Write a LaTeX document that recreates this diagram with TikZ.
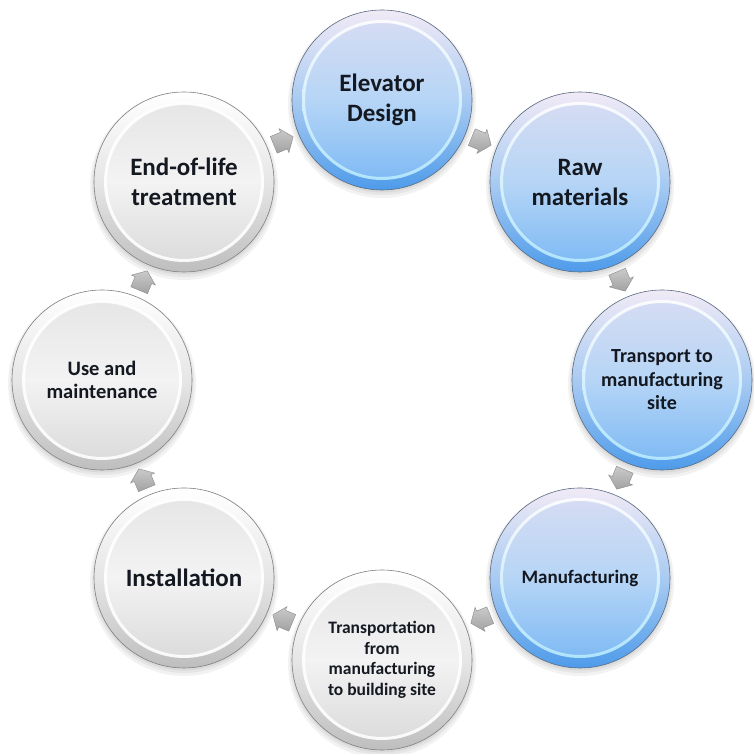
\documentclass[tikz,border=0pt]{standalone}
\usepackage{fontspec}
\setmainfont{Carlito}
\usetikzlibrary{calc,backgrounds}
\definecolor{bOutTop}{HTML}{F1EAF6}
\definecolor{bOutMid}{HTML}{A9CBF2}
\definecolor{bOutBot}{HTML}{4E9BEA}
\definecolor{bInTop}{HTML}{D9DDF2}
\definecolor{bInMid}{HTML}{B6D5F6}
\definecolor{bInBot}{HTML}{78B7F4}
\definecolor{bGlow}{HTML}{BFEFFF}
\definecolor{bRim}{HTML}{5A6A80}
\definecolor{gOutTop}{HTML}{FFFFFF}
\definecolor{gOutMid}{HTML}{E6E6E6}
\definecolor{gOutBot}{HTML}{BEBEBE}
\definecolor{gInTop}{HTML}{E4E4E4}
\definecolor{gInMid}{HTML}{F3F3F3}
\definecolor{gInBot}{HTML}{D8D8D8}
\definecolor{gRim}{HTML}{808080}
\definecolor{aTop}{HTML}{CACACA}
\definecolor{aBot}{HTML}{A2A2A2}
\definecolor{aRim}{HTML}{8A8A8A}
\definecolor{txt}{HTML}{141820}
\tikzset{
  stage/.style={circle, minimum size=180pt, inner sep=0pt, align=center,
    font=\bfseries, text=txt, line width=0.6pt},
  bluestage/.style={stage, draw=bRim, top color=bOutTop, bottom color=bOutBot, middle color=bOutMid,
    path picture={
      \shade[top color=bInTop, bottom color=bInBot, middle color=bInMid]
        (path picture bounding box.center) circle (78pt);
      \shade[even odd rule, top color=white, bottom color=bGlow, opacity=0.85]
        (path picture bounding box.center) circle (80pt)
        (path picture bounding box.center) circle (77pt);
    }},
  graystage/.style={stage, draw=gRim, top color=gOutTop, bottom color=gOutBot, middle color=gOutMid,
    path picture={
      \shade[top color=gInTop, bottom color=gInBot, middle color=gInMid]
        (path picture bounding box.center) circle (78pt);
      \fill[even odd rule, white, opacity=0.9]
        (path picture bounding box.center) circle (80pt)
        (path picture bounding box.center) circle (77pt);
    }},
  blockarrow/.pic={
    \shade[top color=aTop, bottom color=aBot, draw=aRim, line width=0.4pt]
      (-10,-9) -- (1,-9) -- (1,-13) -- (11,0) -- (1,13) -- (1,9) -- (-10,9) -- cycle;
  },
  softshadow/.style={fill=black, opacity=0.05}
}
\begin{document}
\begin{tikzpicture}[x=1pt,y=1pt]
\useasboundingbox (0,0) rectangle (753,754);
\coordinate (O) at (382,374);
\node[bluestage, font=\bfseries\fontsize{25}{30}\selectfont] (c1) at ($(O)+(90:280)$) {Elevator\\Design};
\node[bluestage, font=\bfseries\fontsize{25}{30}\selectfont] (c2) at ($(O)+(45:280)$) {Raw\\materials};
\node[bluestage, font=\bfseries\fontsize{20}{23.5}\selectfont] (c3) at ($(O)+(0:280)$) {Transport to\\manufacturing\\site};
\node[bluestage, font=\bfseries\fontsize{19}{23}\selectfont] (c4) at ($(O)+(-45:280)$) {Manufacturing};
\node[graystage, font=\bfseries\fontsize{17.5}{20.5}\selectfont] (c5) at ($(O)+(-90:280)$) {Transportation\\from\\manufacturing\\to building site};
\node[graystage, font=\bfseries\fontsize{25}{30}\selectfont] (c6) at ($(O)+(-135:280)$) {Installation};
\node[graystage, font=\bfseries\fontsize{20.5}{23.5}\selectfont] (c7) at ($(O)+(180:280)$) {Use and\\maintenance};
\node[graystage, font=\bfseries\fontsize{25}{30}\selectfont] (c8) at ($(O)+(135:280)$) {End-of-life\\treatment};
\begin{scope}[on background layer]
  \foreach \n in {c1,c2,c3,c4,c5,c6,c7,c8}{
    \fill[softshadow] ($(\n.center)+(0,-4)$) circle (94pt);
    \fill[softshadow] ($(\n.center)+(0,-3)$) circle (92pt);
    \fill[softshadow] ($(\n.center)+(0,-2)$) circle (90.5pt);
  }
  \pic[rotate=-22.5] (a12) at ($(c1)!0.5!(c2)$) {blockarrow};
  \pic[rotate=-67.5] (a23) at ($(c2)!0.5!(c3)$) {blockarrow};
  \pic[rotate=-112.5] (a34) at ($(c3)!0.5!(c4)$) {blockarrow};
  \pic[rotate=-157.5] (a45) at ($(c4)!0.5!(c5)$) {blockarrow};
  \pic[rotate=157.5] (a56) at ($(c5)!0.5!(c6)$) {blockarrow};
  \pic[rotate=112.5] (a67) at ($(c6)!0.5!(c7)$) {blockarrow};
  \pic[rotate=67.5] (a78) at ($(c7)!0.5!(c8)$) {blockarrow};
  \pic[rotate=22.5] (a81) at ($(c8)!0.5!(c1)$) {blockarrow};
\end{scope}
\end{tikzpicture}
\end{document}
